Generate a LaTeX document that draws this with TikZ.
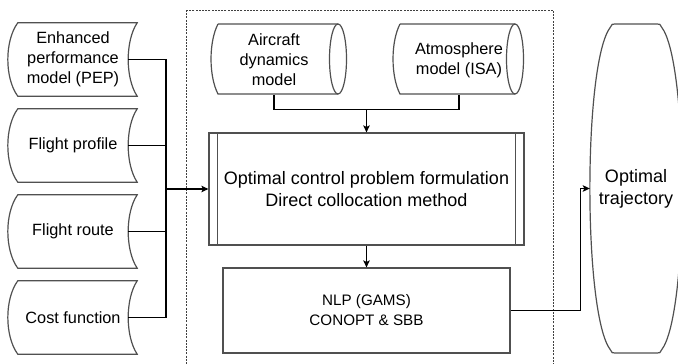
\documentclass[tikz,border=0pt]{standalone}
\usepackage{fontspec}
\setmainfont{Liberation Sans}
\usetikzlibrary{arrows.meta,calc}
\definecolor{shapecol}{HTML}{505050}
\definecolor{dashcol}{HTML}{404040}
\begin{document}
\begin{tikzpicture}[x=1pt,y=-1pt,
  shp/.style={draw=shapecol,line width=1.2pt},
  ln/.style={draw=black,line width=1.2pt},
  arr/.style={ln,-{Stealth[length=7pt,width=6.5pt,inset=1.5pt]}},
  txtA/.style={align=center,font=\fontsize{16.3}{20}\selectfont,inner sep=0pt},
  txtB/.style={align=center,font=\fontsize{18}{22}\selectfont,inner sep=0pt},
  txtC/.style={align=center,font=\fontsize{15.2}{20}\selectfont,inner sep=0pt},
  dashbox/.style={draw=dashcol,line width=0.9pt,dash pattern=on 2pt off 1.2pt},
]
\useasboundingbox (0,0) rectangle (678,364);
\clip (0,0) rectangle (678,364);

% dashed frame
\draw[dashbox] (186,10) rectangle (553,372);

% left data-storage nodes
\newcommand{\datastore}[1]{%
  \draw[shp] (#1.north west) -- ($(#1.north east)+(9,0)$)
    .. controls ($(#1.north east)+(-3,18)$) and ($(#1.south east)+(-3,-18)$) .. ($(#1.south east)+(9,0)$)
    -- (#1.south west)
    .. controls ($(#1.south west)+(-13.3,-18)$) and ($(#1.north west)+(-13.3,18)$) .. cycle;}
\node[txtA,minimum width=110pt,minimum height=73pt] (pep) at (73,59.5) {Enhanced\\performance\\model (PEP)};
\node[txtA,minimum width=110pt,minimum height=73pt] (fp) at (73,145.5) {Flight profile};
\node[txtA,minimum width=110pt,minimum height=73pt] (fr) at (73,231.5) {Flight route};
\node[txtA,minimum width=110pt,minimum height=73pt] (cf) at (73,317.5) {Cost function};
\datastore{pep}
\datastore{fp}
\datastore{fr}
\datastore{cf}

% cylinders
\draw[shp] (218,24) -- (338,24) (338,94) -- (218,94)
  .. controls (208.7,76) and (208.7,42) .. (218,24);
\draw[shp] (338,59) ellipse [x radius=8.5, y radius=35];
\node[txtA,minimum width=120pt,minimum height=70pt] (acm) at (274,60) {Aircraft\\dynamics\\model};
\draw[shp] (400,24) -- (515,24) (515,94) -- (400,94)
  .. controls (390.7,76) and (390.7,42) .. (400,24);
\draw[shp] (515,59) ellipse [x radius=8.5, y radius=35];
\node[txtA,minimum width=110pt,minimum height=70pt] (atm) at (459,60) {Atmosphere\\model (ISA)};

% optimal control box
\node[txtB,draw=shapecol,line width=1.2pt,minimum width=315pt,minimum height=112pt] (oc) at (366.5,189)
  {Optimal control problem formulation\\Direct collocation method};
\draw[shp] ($(oc.north west)+(9,0)$) -- ($(oc.south west)+(9,0)$);
\draw[shp] ($(oc.north east)+(-9,0)$) -- ($(oc.south east)+(-9,0)$);

% NLP box
\node[txtC,draw=shapecol,line width=1.2pt,minimum width=287pt,minimum height=85pt] (nlp) at (366.5,310.5)
  {NLP (GAMS)\\CONOPT \& SBB};

% optimal trajectory
\draw[shp] (615,24) -- (657,24) .. controls (660,24) .. (661.5,27)
  .. controls (689,62) and (689,315) .. (661.5,350)
  .. controls (660,353) .. (657,353) -- (615,353)
  .. controls (612,353) .. (610.5,350)
  .. controls (583,315) and (583,62) .. (610.5,27)
  .. controls (612,24) .. cycle;
\node[txtB,minimum width=92pt,minimum height=329pt] (ot) at (636,188.5) {Optimal\\trajectory};

% connectors
\coordinate (bus) at (166,189);
\draw[ln] (pep.east) -| (bus);
\draw[ln] (fp.east) -| (bus);
\draw[ln] (fr.east) -| (bus);
\draw[ln] (cf.east) -| (bus);
\draw[arr] (bus) -- (oc.west);

\coordinate (join) at ($(acm.south)!0.5!(atm.south)+(0,14)$);
\draw[ln] (acm.south) -- ++(0,14) -| (atm.south);
\draw[arr] (join) -- (join |- oc.north);
\draw[arr] (oc.south) -- (nlp.north);
\draw[arr] (nlp.east) -- ++(70,0) |- (ot.west);
\end{tikzpicture}
\end{document}
